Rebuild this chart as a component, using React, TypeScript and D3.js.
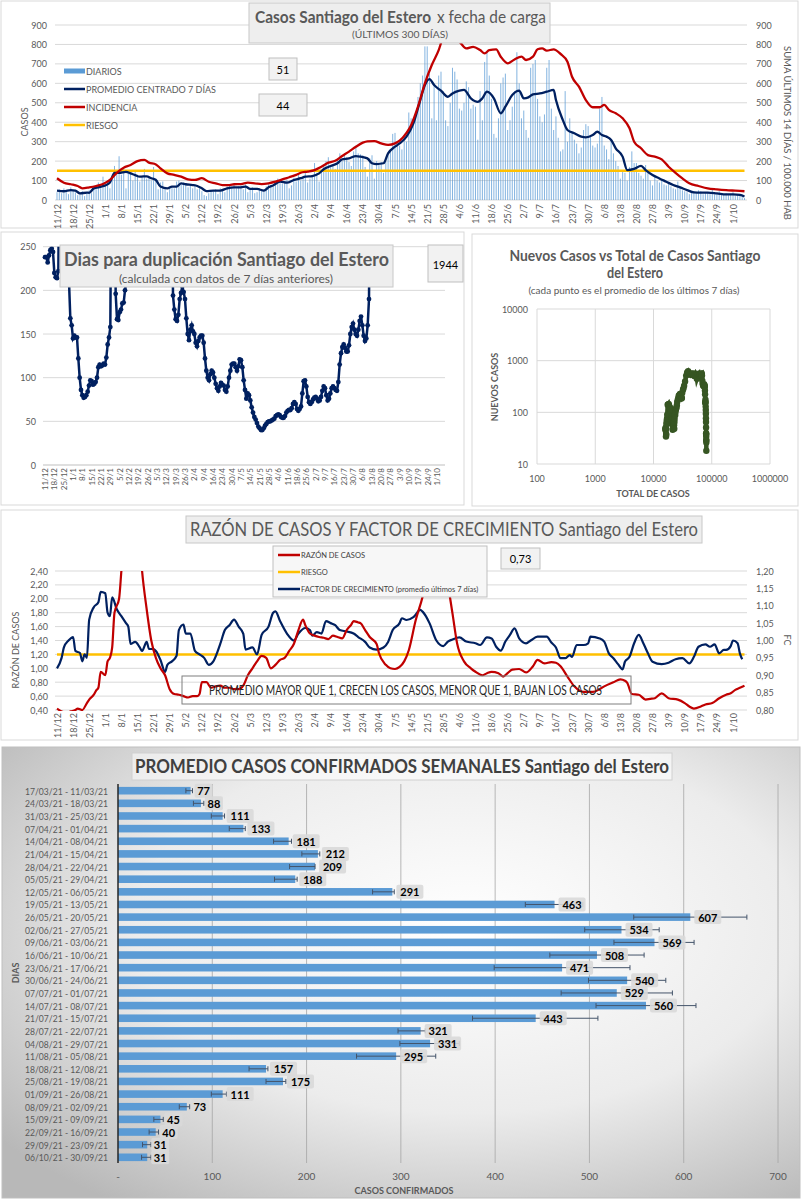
import React, { useRef, useEffect } from 'react'
import * as d3 from 'd3'

const FONT = 'Lato, "Liberation Sans", Arial, sans-serif'
const GRAY = '#595959'
const GRID = '#d9d9d9'
const NAVY = '#002060'
const RED = '#c00000'
const YELLOW = '#ffc000'
const BLUE = '#5b9bd5'
const GREEN = '#375623'

// Eje temporal: 11/12/2020 + n días
const fechaInicio = new Date(2020, 11, 11)
const ultimoDiaEje = 294

// --- Casos diarios (últimos 300 días) ---
const diarios = [
  40, 55, 35, 60, 45, 30, 65, 50, 40, 25,
  30, 45, 20, 40, 50, 35, 70, 55, 90, 60,
  120, 75, 100, 60, 120, 175, 150, 225, 130, 160,
  60, 145, 140, 100, 150, 130, 95, 120, 160, 110,
  120, 100, 170, 110, 55, 90, 95, 60, 40, 70,
  65, 60, 95, 100, 80, 90, 85, 65, 75, 60,
  80, 55, 60, 45, 25, 20, 35, 50, 45, 55,
  30, 60, 55, 40, 70, 75, 65, 80, 60, 70,
  75, 55, 80, 40, 55, 65, 35, 40, 60, 45,
  55, 70, 80, 75, 70, 90, 110, 100, 85, 95,
  105, 60, 75, 115, 95, 130, 100, 120, 140, 90,
  110, 125, 190, 140, 95, 150, 180, 200, 220, 170,
  185, 160, 205, 240, 200, 230, 220, 195, 175, 250,
  280, 240, 235, 230, 170, 120, 215, 230, 110, 200,
  180, 195, 140, 200, 230, 250, 340, 345, 300, 280,
  260, 330, 300, 450, 420, 390, 440, 530, 600, 640,
  790, 790, 650, 420, 600, 410, 640, 660, 560, 410,
  380, 500, 680, 660, 620, 470, 460, 500, 610, 580,
  470, 490, 480, 310, 560, 410, 710, 760, 640, 520,
  340, 320, 420, 600, 630, 650, 360, 410, 480, 560,
  760, 600, 420, 460, 360, 320, 680, 700, 720, 520,
  430, 400, 440, 680, 720, 470, 360, 430, 320, 250,
  260, 560, 300, 420, 350, 310, 290, 240, 270, 360,
  390, 380, 330, 280, 270, 290, 470, 530, 280, 260,
  210, 310, 240, 200, 175, 110, 150, 140, 100, 170,
  250, 190, 190, 140, 125, 110, 180, 140, 100, 75,
  120, 100, 90, 105, 80, 75, 85, 70, 60, 55,
  95, 65, 50, 45, 40, 30, 35, 45, 40, 50,
  45, 30, 35, 40, 30, 55, 30, 35, 45, 25,
  30, 35, 25, 30, 40, 20, 30, 25, 15, 10,
]

// [día, valor]
const promedio7: [number, number][] = [
  [0, 48], [3, 45], [6, 51], [8, 48], [10, 34], [13, 38], [14, 37], [16, 60], [19, 68], [21, 75],
  [23, 90], [25, 140], [27, 140], [30, 145], [32, 137], [34, 128], [36, 120], [39, 122], [41, 112], [43, 103],
  [45, 69], [48, 60], [50, 69], [52, 69], [54, 86], [56, 81], [59, 77], [61, 72], [63, 60], [65, 46],
  [68, 48], [71, 48], [74, 60], [77, 65], [80, 65], [82, 69], [84, 57], [87, 57], [90, 48], [92, 65],
  [94, 75], [97, 94], [100, 89], [103, 103], [106, 112], [108, 120], [111, 123], [114, 137], [116, 158], [119, 175],
  [122, 189], [124, 209], [127, 214], [130, 226], [132, 223], [135, 214], [137, 189], [139, 185], [142, 189], [144, 240],
  [147, 274], [149, 291], [152, 326], [155, 394], [158, 514], [160, 591], [162, 622], [164, 591], [167, 562], [170, 531],
  [172, 548], [175, 562], [177, 566], [180, 523], [183, 505], [185, 523], [187, 557], [190, 523], [193, 446], [195, 480],
  [198, 540], [201, 562], [203, 523], [205, 528], [207, 543], [210, 548], [213, 557], [216, 566], [217, 514], [220, 411],
  [222, 360], [225, 343], [228, 326], [230, 322], [233, 334], [235, 351], [237, 334], [239, 326], [241, 309], [243, 266],
  [246, 223], [248, 154], [251, 160], [254, 175], [256, 154], [259, 129], [262, 111], [265, 94], [268, 77], [271, 65],
  [274, 51], [277, 39], [280, 38], [283, 38], [287, 34], [291, 29], [294, 29], [297, 26], [299, 18],
]

const incidencia: [number, number][] = [
  [0, 112], [3, 89], [6, 81], [9, 72], [11, 60], [14, 65], [17, 72], [20, 82], [23, 103], [26, 140],
  [29, 166], [32, 180], [35, 200], [38, 206], [40, 192], [43, 183], [45, 163], [48, 137], [51, 129], [54, 120],
  [57, 106], [60, 103], [63, 112], [66, 94], [69, 86], [72, 77], [75, 77], [77, 81], [80, 82], [83, 89],
  [86, 86], [89, 82], [92, 86], [95, 94], [98, 106], [101, 117], [104, 129], [106, 140], [109, 146], [112, 154],
  [115, 171], [118, 192], [121, 202], [124, 226], [127, 249], [130, 274], [133, 295], [135, 302], [138, 303], [141, 291],
  [144, 283], [147, 291], [149, 305], [152, 345], [154, 385], [157, 480], [160, 600], [163, 694], [166, 771], [168, 840],
  [170, 870], [172, 835], [175, 814], [178, 780], [181, 788], [184, 771], [186, 754], [188, 771], [191, 775], [193, 737],
  [196, 703], [199, 723], [202, 737], [204, 720], [207, 737], [209, 775], [211, 780], [213, 768], [216, 775], [219, 751],
  [222, 711], [224, 634], [227, 583], [230, 514], [233, 477], [236, 477], [238, 489], [240, 463], [243, 446], [246, 420],
  [249, 369], [251, 300], [254, 266], [257, 231], [260, 223], [263, 209], [266, 171], [269, 140], [272, 111], [275, 86],
  [279, 72], [283, 60], [287, 55], [291, 51], [295, 48], [299, 45],
]
const riesgoIncidencia = 150
const ultimoDiario = '51'
const ultimaIncidencia = '44'

// --- Días para duplicación (desde 11/12) ---
const duplicacion = [
  238, 238, 232, 240, 246, 248, 244, 220, 215, 214,
  222, 400, 400, 400, 400, 400, 400, 400, 210, 168,
  160, 145, 148, 146, 146, 122, 100, 86, 80, 77,
  78, 80, 84, 91, 97, 96, 92, 93, 95, 100,
  112, 115, 113, 114, 116, 115, 123, 138, 146, 158,
  400, 400, 400, 196, 167, 166, 175, 178, 185, 186,
  200, 210, 400, 400, 400, 400, 400, 400, 400, 400,
  400, 400, 400, 400, 400, 400, 400, 400, 400, 400,
  400, 400, 400, 400, 400, 400, 400, 400, 400, 400,
  400, 400, 400, 400, 400, 400, 194, 178, 167, 165,
  172, 190, 197, 205, 198, 190, 168, 150, 143, 155,
  160, 153, 150, 140, 136, 142, 146, 148, 148, 140,
  122, 108, 100, 97, 104, 108, 106, 100, 93, 88,
  85, 90, 94, 92, 91, 86, 84, 90, 100, 108,
  115, 116, 116, 112, 108, 113, 121, 120, 112, 97,
  86, 76, 82, 80, 74, 66, 60, 55, 52, 48,
  44, 42, 40, 40, 42, 45, 47, 49, 50, 50,
  51, 52, 53, 56, 57, 58, 57, 55, 54, 54,
  56, 60, 62, 63, 63, 65, 70, 72, 70, 64,
  62, 64, 67, 82, 96, 97, 90, 78, 72, 70,
  72, 75, 77, 78, 76, 73, 74, 78, 85, 90,
  88, 80, 74, 76, 82, 88, 90, 88, 86, 85,
  95, 115, 128, 135, 138, 134, 130, 130, 137, 150,
  158, 162, 155, 150, 148, 155, 165, 170, 160, 148,
  142, 145, 160, 190, 400,
]
const duplicacionActual = '1944'

// total acumulado al 11/12
const totalInicial = 15900

// --- Razón de casos / factor de crecimiento ---
const razonCasos: [number, number][] = [
  [0, 0.42], [2, 0.38], [4, 0.36], [6, 0.38], [8, 0.4], [9, 0.42], [11, 0.4], [13, 0.5], [14, 0.55], [16, 0.62],
  [17, 0.68], [18, 0.72], [19, 0.95], [21, 0.9], [22, 1.1], [23, 1.15], [24, 1.3], [25, 1.8], [27, 2.0], [28, 2.4],
  [30, 3.2], [33, 3.6], [36, 2.8], [37, 2.4], [39, 1.85], [41, 1.4], [43, 1.15], [45, 1.0], [47, 0.9], [49, 0.7],
  [51, 0.63], [53, 0.62], [55, 0.6], [57, 0.58], [59, 0.6], [61, 0.6], [62, 0.63], [63, 0.8], [65, 0.8], [67, 0.72],
  [69, 0.74], [71, 0.75], [73, 0.72], [75, 0.72], [77, 0.7], [79, 0.7], [81, 0.75], [83, 0.9], [85, 1.0], [87, 1.1],
  [89, 1.18], [91, 1.15], [93, 1.0], [95, 1.05], [97, 1.12], [99, 1.15], [101, 1.25], [103, 1.35], [105, 1.55], [107, 1.7],
  [108, 1.62], [110, 1.5], [112, 1.47], [114, 1.45], [116, 1.44], [118, 1.42], [120, 1.47], [122, 1.45], [124, 1.43], [126, 1.55],
  [128, 1.63], [129, 1.68], [131, 1.66], [132, 1.65], [134, 1.55], [136, 1.45], [139, 1.35], [140, 1.22], [143, 1.05], [145, 1.0],
  [147, 0.99], [149, 1.02], [151, 1.1], [153, 1.26], [156, 1.69], [159, 2.03], [160, 2.17], [162, 2.45], [165, 2.8], [167, 2.7],
  [169, 2.4], [172, 1.79], [174, 1.36], [177, 1.1], [180, 1.0], [182, 0.95], [185, 0.9], [187, 0.93], [189, 0.95], [192, 0.93],
  [194, 0.88], [196, 0.93], [198, 0.98], [201, 0.99], [204, 0.94], [207, 1.03], [209, 1.12], [212, 1.07], [215, 1.09], [217, 1.08],
  [219, 1.03], [222, 0.88], [225, 0.74], [229, 0.66], [233, 0.66], [236, 0.7], [238, 0.74], [242, 0.8], [245, 0.84], [247, 0.82],
  [248, 0.79], [250, 0.63], [253, 0.62], [256, 0.55], [258, 0.56], [260, 0.57], [263, 0.64], [266, 0.57], [270, 0.55], [273, 0.5],
  [275, 0.45], [277, 0.42], [280, 0.45], [282, 0.48], [285, 0.5], [288, 0.57], [291, 0.62], [293, 0.64], [295, 0.69], [297, 0.72],
  [299, 0.75],
]

const factorCrecimiento: [number, number][] = [
  [0, 0.92], [2, 0.95], [3, 0.98], [5, 1.0], [7, 1.01], [8, 0.97], [10, 0.964], [11, 0.94], [12, 0.96], [13, 0.95],
  [14, 1.06], [16, 1.096], [18, 1.11], [19, 1.14], [21, 1.136], [22, 1.08], [23, 1.07], [24, 1.124], [26, 1.09], [28, 1.07],
  [30, 1.05], [31, 1.04], [32, 0.99], [34, 0.996], [36, 0.98], [37, 0.97], [39, 0.996], [40, 0.976], [42, 0.975], [43, 0.97],
  [45, 0.944], [47, 0.91], [48, 0.93], [50, 0.94], [52, 0.956], [53, 1.03], [55, 1.046], [56, 1.02], [58, 1.02], [60, 0.97],
  [62, 0.96], [64, 0.95], [66, 0.93], [68, 0.94], [71, 0.99], [73, 1.03], [75, 1.044], [77, 1.06], [79, 1.04], [81, 1.02],
  [82, 0.974], [85, 0.98], [87, 0.96], [89, 1.016], [92, 1.04], [94, 1.08], [95, 1.084], [97, 1.056], [100, 1.02], [103, 1.0],
  [105, 1.02], [108, 1.036], [110, 1.03], [111, 1.014], [113, 1.024], [115, 1.02], [117, 1.056], [119, 1.05], [121, 1.044], [123, 1.03],
  [126, 1.026], [129, 1.02], [131, 1.01], [134, 0.996], [136, 0.98], [139, 0.974], [142, 0.98], [144, 0.996], [146, 1.03], [149, 1.05],
  [150, 1.064], [152, 1.059], [155, 1.067], [158, 1.088], [159, 1.083], [162, 1.05], [165, 1.0], [168, 0.984], [170, 0.997], [172, 1.003],
  [175, 1.009], [178, 0.997], [182, 0.992], [184, 0.987], [187, 1.009], [189, 1.006], [191, 0.982], [193, 0.971], [195, 0.997], [197, 1.016],
  [199, 1.035], [201, 1.006], [204, 0.992], [206, 1.0], [209, 1.011], [213, 1.011], [215, 0.994], [217, 0.98], [219, 0.949], [221, 0.949],
  [223, 0.958], [224, 0.953], [226, 0.987], [229, 0.987], [231, 0.992], [232, 1.011], [236, 1.006], [238, 0.997], [240, 0.963], [242, 0.949],
  [244, 0.932], [246, 0.917], [247, 0.939], [249, 0.953], [251, 0.992], [253, 1.016], [255, 0.992], [257, 0.963], [259, 0.939], [263, 0.932],
  [266, 0.936], [269, 0.946], [272, 0.949], [275, 0.934], [277, 0.953], [279, 0.982], [282, 0.989], [284, 0.982], [286, 0.989], [288, 0.963],
  [290, 0.973], [291, 0.973], [293, 0.984], [294, 1.0], [296, 0.992], [297, 0.963], [298, 0.946],
]
const riesgoRazon = 1.2
const ultimaRazon = '0,73'

// --- Promedio semanal ---
const semanas = [
  '17/03/21 - 11/03/21', '24/03/21 - 18/03/21', '31/03/21 - 25/03/21', '07/04/21 - 01/04/21',
  '14/04/21 - 08/04/21', '21/04/21 - 15/04/21', '28/04/21 - 22/04/21', '05/05/21 - 29/04/21',
  '12/05/21 - 06/05/21', '19/05/21 - 13/05/21', '26/05/21 - 20/05/21', '02/06/21 - 27/05/21',
  '09/06/21 - 03/06/21', '16/06/21 - 10/06/21', '23/06/21 - 17/06/21', '30/06/21 - 24/06/21',
  '07/07/21 - 01/07/21', '14/07/21 - 08/07/21', '21/07/21 - 15/07/21', '28/07/21 - 22/07/21',
  '04/08/21 - 29/07/21', '11/08/21 - 05/08/21', '18/08/21 - 12/08/21', '25/08/21 - 19/08/21',
  '01/09/21 - 26/08/21', '08/09/21 - 02/09/21', '15/09/21 - 09/09/21', '22/09/21 - 16/09/21',
  '29/09/21 - 23/09/21', '06/10/21 - 30/09/21',
]
const promedioSemanal = [77, 88, 111, 133, 181, 212, 209, 188, 291, 463, 607, 534, 569, 508, 471, 540, 529, 560, 443, 321, 331, 295, 157, 175, 111, 73, 45, 40, 31, 31]
const errorBajo = [72, 80, 99, 118, 165, 195, 182, 166, 270, 432, 547, 495, 526, 458, 399, 499, 470, 507, 376, 297, 299, 253, 139, 157, 99, 65, 38, 33, 26, 25]
const errorAlto = [79, 91, 113, 135, 184, 214, 209, 190, 293, 493, 667, 574, 611, 558, 543, 581, 588, 613, 509, 326, 362, 337, 159, 178, 115, 76, 48, 43, 35, 35]

const fmtFecha = d3.timeFormat('%-d/%-m')
const coma = (f: string) => (v: number) => d3.format(f)(v).replace('.', ',')

function addText(g: any, x: number, y: number, s: string, o: any = {}) {
  const t = g.append('text')
    .attr('x', x).attr('y', y)
    .attr('font-family', FONT)
    .attr('font-size', o.size ?? 9)
    .attr('font-weight', o.weight ?? 'normal')
    .attr('fill', o.fill ?? GRAY)
    .attr('text-anchor', o.anchor ?? 'start')
    .text(s)
  if (o.len) t.attr('textLength', o.len).attr('lengthAdjust', 'spacingAndGlyphs')
  if (o.rotate != null) t.attr('transform', `rotate(${o.rotate},${x},${y})`)
  if (o.baseline) t.attr('dominant-baseline', o.baseline)
  return t
}

function addBox(g: any, x: number, y: number, w: number, h: number, fill = '#f2f2f2', stroke = '#bfbfbf') {
  return g.append('rect').attr('x', x).attr('y', y).attr('width', w).attr('height', h)
    .attr('fill', fill).attr('stroke', stroke).attr('stroke-width', 1)
}

function dateLabels(g: any, xs: any, yTop: number, size: number) {
  const ticks = d3.range(0, ultimoDiaEje + 1, 7)
  ticks.forEach((d) => {
    addText(g, xs(d), yTop, fmtFecha(d3.timeDay.offset(fechaInicio, d)), {
      size, anchor: 'end', rotate: -90, baseline: 'central',
    })
  })
}

function addClip(svg: any, id: string, x: number, y: number, w: number, h: number) {
  svg.append('clipPath').attr('id', id).append('rect')
    .attr('x', x).attr('y', y).attr('width', w).attr('height', h)
}

export default function App() {
  const svgRef = useRef<SVGSVGElement>(null)

  useEffect(() => {
    if (!svgRef.current) return
    const svg = d3.select(svgRef.current)
    svg.selectAll('*').remove()

    const defs = svg.append('defs')
    const grad = defs.append('radialGradient').attr('id', 'fondo')
      .attr('cx', '58%').attr('cy', '40%').attr('r', '75%')
    grad.append('stop').attr('offset', '0%').attr('stop-color', '#ffffff')
    grad.append('stop').attr('offset', '55%').attr('stop-color', '#ececec')
    grad.append('stop').attr('offset', '100%').attr('stop-color', '#b8b8b8')

    // ================= Panel 1: casos x fecha de carga =================
    const p1 = svg.append('g')
    addBox(p1, 1, 1, 797, 227, '#ffffff', GRID)
    const x1 = d3.scaleLinear().domain([0, ultimoDiaEje]).range([57, 733])
    const y1 = d3.scaleLinear().domain([0, 900]).range([200, 25])

    y1.ticks(9).forEach((t) => {
      p1.append('line').attr('x1', 55).attr('x2', 747).attr('y1', y1(t)).attr('y2', y1(t))
        .attr('stroke', GRID).attr('stroke-width', 1)
      addText(p1, 47, y1(t), String(t), { anchor: 'end', baseline: 'central', size: 9 })
      addText(p1, 756, y1(t), String(t), { baseline: 'central', size: 9 })
    })
    addText(p1, 24, 122, 'CASOS', { rotate: -90, anchor: 'middle', baseline: 'central', size: 9 })
    addText(p1, 787, 133, 'SUMA  ÚLTIMOS  14 DÍAS / 100.000 HAB', { rotate: 90, anchor: 'middle', baseline: 'central', size: 9, len: 174 })

    p1.append('g').selectAll('rect').data(diarios).join('rect')
      .attr('x', (_d: number, i: number) => x1(i) - 0.5)
      .attr('width', 1)
      .attr('y', (d: number) => y1(d))
      .attr('height', (d: number) => y1(0) - y1(d))
      .attr('fill', BLUE)
      .attr('opacity', 0.75)

    p1.append('line').attr('x1', x1(0)).attr('x2', x1(299))
      .attr('y1', y1(riesgoIncidencia)).attr('y2', y1(riesgoIncidencia))
      .attr('stroke', YELLOW).attr('stroke-width', 2.5)

    const line1 = d3.line<[number, number]>().x((d) => x1(d[0])).y((d) => y1(d[1])).curve(d3.curveMonotoneX)
    p1.append('path').attr('d', line1(promedio7)).attr('fill', 'none').attr('stroke', NAVY).attr('stroke-width', 2.3)
    p1.append('path').attr('d', line1(incidencia)).attr('fill', 'none').attr('stroke', RED).attr('stroke-width', 2.3)

    dateLabels(p1, x1, 204, 9)

    // leyenda
    const leg1 = [
      { label: 'DIARIOS', color: BLUE, bar: true },
      { label: 'PROMEDIO CENTRADO 7 DÍAS', color: NAVY },
      { label: 'INCIDENCIA', color: RED },
      { label: 'RIESGO', color: YELLOW },
    ]
    leg1.forEach((l, i) => {
      const y = 71 + i * 18
      if (l.bar) {
        p1.append('rect').attr('x', 64).attr('y', y - 2.5).attr('width', 21).attr('height', 5).attr('fill', l.color)
      } else {
        p1.append('line').attr('x1', 64).attr('x2', 85).attr('y1', y).attr('y2', y).attr('stroke', l.color).attr('stroke-width', 2.5)
      }
      addText(p1, 86, y, l.label, { baseline: 'central', size: 9 })
    })

    addBox(p1, 269, 58, 28, 22)
    addText(p1, 283, 69, ultimoDiario, { anchor: 'middle', baseline: 'central', size: 11, fill: '#000' })
    addBox(p1, 259, 94, 48, 22)
    addText(p1, 283, 105, ultimaIncidencia, { anchor: 'middle', baseline: 'central', size: 11, fill: '#000' })

    addBox(p1, 249, 3, 301, 40, '#eeeeee', '#c8c8c8')
    const titulo1 = p1.append('text').attr('x', 255).attr('y', 23)
      .attr('font-family', FONT).attr('font-size', 17).attr('fill', GRAY)
    titulo1.append('tspan').attr('font-weight', 'bold').attr('textLength', 176)
      .attr('lengthAdjust', 'spacingAndGlyphs').text('Casos Santiago del Estero')
    titulo1.append('tspan').attr('x', 437).attr('textLength', 109)
      .attr('lengthAdjust', 'spacingAndGlyphs').text('x fecha  de carga')
    addText(p1, 352, 38, '(ÚLTIMOS 300 DÍAS)', { size: 10, len: 96 })

    // ================= Panel 2: días para duplicación =================
    const p2 = svg.append('g')
    addBox(p2, 1, 232, 463, 273, '#ffffff', GRID)
    const x2 = d3.scaleLinear().domain([0, ultimoDiaEje]).range([45, 437])
    const y2 = d3.scaleLinear().domain([0, 250]).range([465, 246.7])
    y2.ticks(5).forEach((t) => {
      p2.append('line').attr('x1', 43).attr('x2', 445).attr('y1', y2(t)).attr('y2', y2(t))
        .attr('stroke', t === 0 ? '#bfbfbf' : GRID)
      addText(p2, 36, y2(t), String(t), { anchor: 'end', baseline: 'central', size: 9 })
    })
    dateLabels(p2, x2, 468, 8)
    addClip(svg, 'clipDup', 40, 246.7, 410, 220)
    const dupPts: [number, number][] = duplicacion.map((v, i) => [i, v])
    const g2 = p2.append('g').attr('clip-path', 'url(#clipDup)')
    const line2 = d3.line<[number, number]>().x((d) => x2(d[0])).y((d) => y2(d[1]))
    g2.append('path').attr('d', line2(dupPts)).attr('fill', 'none').attr('stroke', NAVY).attr('stroke-width', 2.5)
    g2.selectAll('circle').data(dupPts.filter((d) => d[1] <= 250)).join('circle')
      .attr('cx', (d: [number, number]) => x2(d[0])).attr('cy', (d: [number, number]) => y2(d[1]))
      .attr('r', 2.4).attr('fill', NAVY)

    addBox(p2, 60, 245, 333, 42, '#eeeeee', '#c8c8c8')
    addText(p2, 64, 266, 'Dias para duplicación Santiago del Estero', { size: 19, weight: 'bold', len: 325 })
    addText(p2, 119, 283, '(calculada con datos de 7 días anteriores)', { size: 12, len: 214 })
    addBox(p2, 428, 245, 35, 37)
    addText(p2, 445.5, 264, duplicacionActual, { anchor: 'middle', baseline: 'central', size: 11, fill: '#000' })

    // ================= Panel 3: nuevos vs total =================
    const p3 = svg.append('g')
    addBox(p3, 472, 234, 326, 272, '#ffffff', GRID)
    const x3 = d3.scaleLog().domain([100, 1e6]).range([537, 770])
    const y3 = d3.scaleLog().domain([10, 1e4]).range([464, 309])
    const xt3 = [100, 1000, 10000, 100000, 1000000]
    const yt3 = [10, 100, 1000, 10000]
    xt3.forEach((t) => {
      p3.append('line').attr('x1', x3(t)).attr('x2', x3(t)).attr('y1', 309).attr('y2', 464).attr('stroke', GRID)
      addText(p3, x3(t), 478, String(t), { anchor: 'middle', baseline: 'central', size: 9 })
    })
    yt3.forEach((t) => {
      p3.append('line').attr('x1', 537).attr('x2', 770).attr('y1', y3(t)).attr('y2', y3(t)).attr('stroke', GRID)
      addText(p3, 528, y3(t), String(t), { anchor: 'end', baseline: 'central', size: 9 })
    })
    const acumulado = d3.cumsum(diarios)
    const scatter: [number, number][] = promedio7.map(([d, v]) => [totalInicial + acumulado[d], v])
    const line3 = d3.line<[number, number]>().x((d) => x3(d[0])).y((d) => y3(d[1]))
    p3.append('path').attr('d', line3(scatter)).attr('fill', 'none').attr('stroke', GREEN).attr('stroke-width', 4.5)
    p3.selectAll('circle').data(scatter).join('circle')
      .attr('cx', (d: [number, number]) => x3(d[0])).attr('cy', (d: [number, number]) => y3(d[1]))
      .attr('r', 3.2).attr('fill', GREEN)
    addText(p3, 635, 261, 'Nuevos Casos vs Total de Casos Santiago', { anchor: 'middle', size: 15, weight: 'bold', len: 251 })
    addText(p3, 635, 278, 'del Estero', { anchor: 'middle', size: 15, weight: 'bold', len: 56 })
    addText(p3, 634, 294, '(cada punto es el promedio de los últimos 7 días)', { anchor: 'middle', size: 9.5, len: 211 })
    addText(p3, 653, 493, 'TOTAL DE CASOS', { anchor: 'middle', baseline: 'central', size: 9, weight: 'bold' })
    addText(p3, 494, 387, 'NUEVOS CASOS', { anchor: 'middle', baseline: 'central', size: 9, weight: 'bold', rotate: -90 })

    // ================= Panel 4: razón de casos y FC =================
    const p4 = svg.append('g')
    addBox(p4, 1, 510, 797, 230, '#ffffff', GRID)
    const y4 = d3.scaleLinear().domain([0.4, 2.4]).range([710, 571])
    const y4r = d3.scaleLinear().domain([0.8, 1.2]).range([710, 571])
    d3.range(0.4, 2.41, 0.2).forEach((t) => {
      p4.append('line').attr('x1', 55).attr('x2', 747).attr('y1', y4(t)).attr('y2', y4(t)).attr('stroke', GRID)
      addText(p4, 48, y4(t), coma('.2f')(t), { anchor: 'end', baseline: 'central', size: 9 })
    })
    d3.range(0.8, 1.201, 0.05).forEach((t) => {
      addText(p4, 756, y4r(t), coma('.2f')(t), { baseline: 'central', size: 9 })
    })
    addText(p4, 15, 650, 'RAZÓN DE CASOS', { rotate: -90, anchor: 'middle', baseline: 'central', size: 9 })
    addText(p4, 787, 640, 'FC', { rotate: 90, anchor: 'middle', baseline: 'central', size: 9 })
    dateLabels(p4, x1, 713, 9)

    p4.append('line').attr('x1', x1(0)).attr('x2', x1(299)).attr('y1', y4(riesgoRazon)).attr('y2', y4(riesgoRazon))
      .attr('stroke', YELLOW).attr('stroke-width', 2.5)
    addClip(svg, 'clipRaz', 50, 571, 705, 140)
    const g4 = p4.append('g').attr('clip-path', 'url(#clipRaz)')
    const lineRaz = d3.line<[number, number]>().x((d) => x1(d[0])).y((d) => y4(d[1])).curve(d3.curveMonotoneX)
    const lineFc = d3.line<[number, number]>().x((d) => x1(d[0])).y((d) => y4r(d[1])).curve(d3.curveMonotoneX)
    g4.append('path').attr('d', lineFc(factorCrecimiento)).attr('fill', 'none').attr('stroke', NAVY).attr('stroke-width', 2.2)
    g4.append('path').attr('d', lineRaz(razonCasos)).attr('fill', 'none').attr('stroke', RED).attr('stroke-width', 2.2)

    p4.append('rect').attr('x', 182).attr('y', 676).attr('width', 449).attr('height', 28)
      .attr('fill', 'none').attr('stroke', '#7f7f7f')
    addText(p4, 209, 695, 'PROMEDIO MAYOR QUE 1, CRECEN LOS CASOS, MENOR QUE 1, BAJAN LOS CASOS', { size: 12.5, fill: '#262626', len: 393 })

    addBox(p4, 273, 546, 214, 51, '#f7f7f7', '#bfbfbf')
    const leg4 = [
      { label: 'RAZÓN DE CASOS', color: RED },
      { label: 'RIESGO', color: YELLOW },
      { label: 'FACTOR DE CRECIMIENTO (promedio últimos 7 días)', color: NAVY },
    ]
    leg4.forEach((l, i) => {
      const y = 555 + i * 17
      p4.append('line').attr('x1', 278).attr('x2', 300).attr('y1', y).attr('y2', y).attr('stroke', l.color).attr('stroke-width', 2.5)
      addText(p4, 301, y, l.label, { baseline: 'central', size: 7.5, fill: '#404040' })
    })
    addBox(p4, 501, 548, 39, 21)
    addText(p4, 520.5, 558.5, ultimaRazon, { anchor: 'middle', baseline: 'central', size: 11, fill: '#000' })

    addBox(p4, 186, 516, 516, 27, '#eeeeee', '#c8c8c8')
    addText(p4, 190, 536, 'RAZÓN DE CASOS Y FACTOR DE CRECIMIENTO Santiago del Estero', { size: 20, len: 508 })

    // ================= Panel 5: promedio semanal =================
    const p5 = svg.append('g')
    p5.append('rect').attr('x', 2).attr('y', 747).attr('width', 798).attr('height', 451)
      .attr('fill', 'url(#fondo)').attr('stroke', '#bfbfbf')
    const x5 = d3.scaleLinear().domain([0, 700]).range([118, 778])
    const y5 = d3.scalePoint<string>().domain(semanas).range([790.7, 1157.3])
    d3.range(100, 701, 100).forEach((t) => {
      p5.append('line').attr('x1', x5(t)).attr('x2', x5(t)).attr('y1', 784).attr('y2', 1163)
        .attr('stroke', '#a6a6a6').attr('stroke-width', 0.8)
    })
    d3.range(0, 701, 100).forEach((t) => {
      addText(p5, x5(t), 1176, t === 0 ? '-' : String(t), { anchor: 'middle', baseline: 'central', size: 10 })
    })
    semanas.forEach((s, i) => {
      const yc = y5(s) as number
      addText(p5, 108, yc, s, { anchor: 'end', baseline: 'central', size: 10, len: 83 })
      p5.append('rect').attr('x', x5(0)).attr('y', yc - 3.8).attr('width', x5(promedioSemanal[i]) - x5(0))
        .attr('height', 7.6).attr('fill', BLUE)
      const ex0 = x5(errorBajo[i]), ex1 = x5(errorAlto[i])
      p5.append('line').attr('x1', ex0).attr('x2', ex1).attr('y1', yc).attr('y2', yc).attr('stroke', '#44546a').attr('stroke-width', 1)
      ;[ex0, ex1].forEach((ex) => {
        p5.append('line').attr('x1', ex).attr('x2', ex).attr('y1', yc - 2.5).attr('y2', yc + 2.5).attr('stroke', '#44546a').attr('stroke-width', 1)
      })
    })
    semanas.forEach((s, i) => {
      const yc = y5(s) as number
      const lbl = String(promedioSemanal[i])
      const w = lbl.length * 9
      const bx = x5(promedioSemanal[i]) + 4
      p5.append('rect').attr('x', bx).attr('y', yc - 7).attr('width', w).attr('height', 14).attr('rx', 2)
        .attr('fill', '#d9d9d9').attr('opacity', 0.9)
      addText(p5, bx + w / 2, yc, lbl, { anchor: 'middle', baseline: 'central', size: 11, weight: 'bold', fill: '#000' })
    })
    p5.append('line').attr('x1', x5(0)).attr('x2', x5(0)).attr('y1', 784).attr('y2', 1163).attr('stroke', '#262626').attr('stroke-width', 1.5)
    addText(p5, 404, 1190, 'CASOS CONFIRMADOS', { anchor: 'middle', baseline: 'central', size: 9, weight: 'bold' })
    addText(p5, 15, 973, 'DIAS', { anchor: 'middle', baseline: 'central', size: 9, weight: 'bold', rotate: -90 })

    addBox(p5, 132, 753, 540, 27, 'rgba(255,255,255,0.55)', '#d0d0d0')
    addText(p5, 135, 773, 'PROMEDIO CASOS CONFIRMADOS SEMANALES Santiago del Estero', { size: 19, weight: 'bold', fill: '#404040', len: 534 })
  }, [])

  return (
    <svg
      ref={svgRef}
      width={803}
      height={1200}
      style={{ position: 'absolute', left: 0, top: 0, background: '#fff' }}
    />
  )
}
